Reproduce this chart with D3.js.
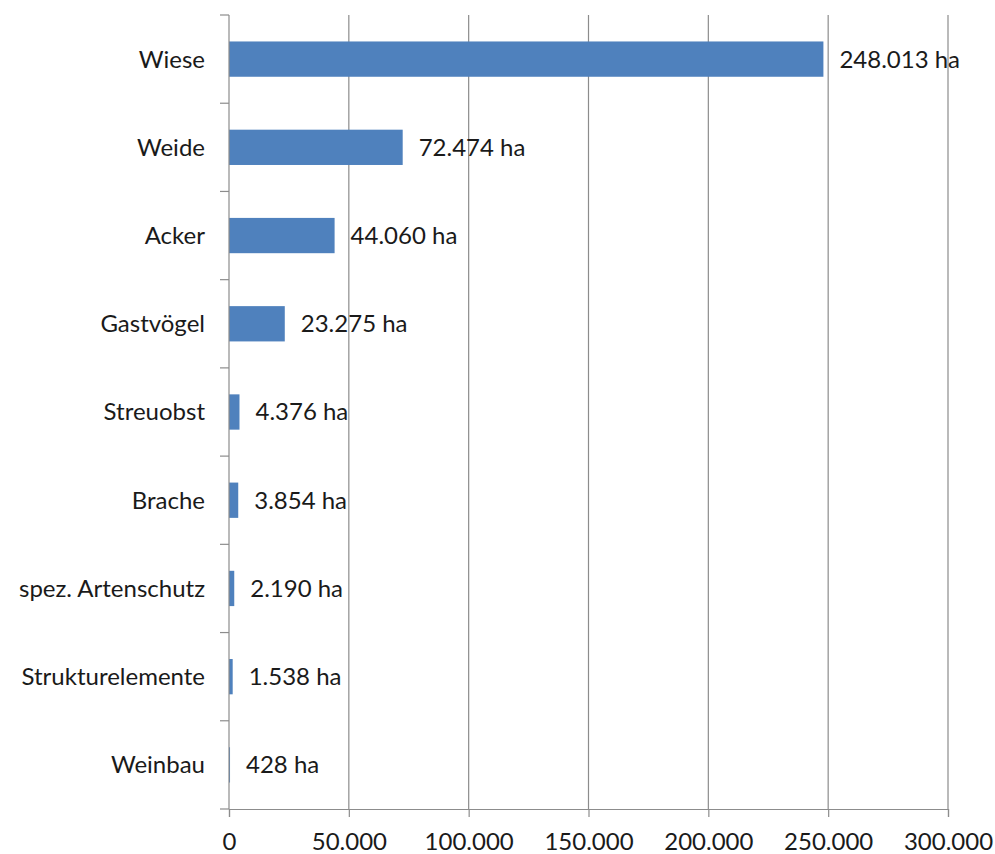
<!DOCTYPE html>
<html>
<head>
<meta charset="utf-8">
<script src="https://d3js.org/d3.v7.min.js"></script>
<style>
body { margin: 0; background: #fff; }
text { font-family: Lato, "Open Sans", sans-serif; fill: #1a1a1a; }
</style>
</head>
<body>
<svg id="chart"></svg>
<script>
// Flächen je Kategorie (ha)
const categories = ["Wiese", "Weide", "Acker", "Gastvögel", "Streuobst", "Brache",
                    "spez. Artenschutz", "Strukturelemente", "Weinbau"];
const values = [248013, 72474, 44060, 23275, 4376, 3854, 2190, 1538, 428];
const xTicks = [0, 50000, 100000, 150000, 200000, 250000, 300000];

const de = d3.formatLocale({decimal: ",", thousands: ".", grouping: [3], currency: ["", " €"]});
const fmt = de.format(",d");

const width = 995, height = 854;
const margin = {top: 15, right: 47, bottom: 45, left: 229};
const fs = 24;

const svg = d3.select("#chart").attr("width", width).attr("height", height);
const g = svg.append("g").attr("transform", `translate(${margin.left},${margin.top})`);

const w = width - margin.left - margin.right;
const h = height - margin.top - margin.bottom;

const x = d3.scaleLinear().domain([0, 300000]).range([0, w]);
const y = d3.scaleBand().domain(categories).range([0, h]).paddingInner(0.6).paddingOuter(0.3);

// gridlines
g.selectAll("line.grid").data(xTicks.slice(1)).enter().append("line")
  .attr("class", "grid")
  .attr("x1", d => x(d)).attr("x2", d => x(d))
  .attr("y1", 0).attr("y2", h)
  .attr("stroke", "#8c8c8c").attr("stroke-width", 1.2);

// bars
g.selectAll("rect").data(values).enter().append("rect")
  .attr("x", 0)
  .attr("y", (d, i) => y(categories[i]))
  .attr("width", d => x(d))
  .attr("height", y.bandwidth())
  .attr("fill", "#4f81bd");

// value labels
g.selectAll("text.val").data(values).enter().append("text")
  .attr("class", "val")
  .attr("x", d => x(d) + 16)
  .attr("y", (d, i) => y(categories[i]) + y.bandwidth() / 2)
  .attr("dy", "0.35em")
  .attr("font-size", fs)
  .text(d => fmt(d) + " ha");

// y axis with ticks at band boundaries
const step = h / categories.length;
const bounds = d3.range(categories.length + 1).map(i => i * step);
g.append("line").attr("x1", 0).attr("x2", 0).attr("y1", 0).attr("y2", h)
  .attr("stroke", "#8c8c8c").attr("stroke-width", 1.2);
g.selectAll("line.ytick").data(bounds).enter().append("line")
  .attr("class", "ytick")
  .attr("x1", -9).attr("x2", 0)
  .attr("y1", d => d).attr("y2", d => d)
  .attr("stroke", "#8c8c8c").attr("stroke-width", 1.2);
g.selectAll("text.cat").data(categories).enter().append("text")
  .attr("class", "cat")
  .attr("x", -24)
  .attr("y", d => y(d) + y.bandwidth() / 2)
  .attr("dy", "0.35em")
  .attr("text-anchor", "end")
  .attr("font-size", fs)
  .text(d => d);

// x axis
const xa = g.append("g").attr("transform", `translate(0,${h})`)
  .call(d3.axisBottom(x).tickValues(xTicks).tickSize(8).tickPadding(16).tickFormat(d => fmt(d)));
xa.select(".domain").attr("stroke", "#8c8c8c").attr("stroke-width", 1.2);
xa.selectAll(".tick line").attr("stroke", "#8c8c8c").attr("stroke-width", 1.2);
xa.selectAll(".tick text").attr("font-size", fs).attr("font-family", "Lato, 'Open Sans', sans-serif").attr("fill", "#1a1a1a");
</script>
</body>
</html>
